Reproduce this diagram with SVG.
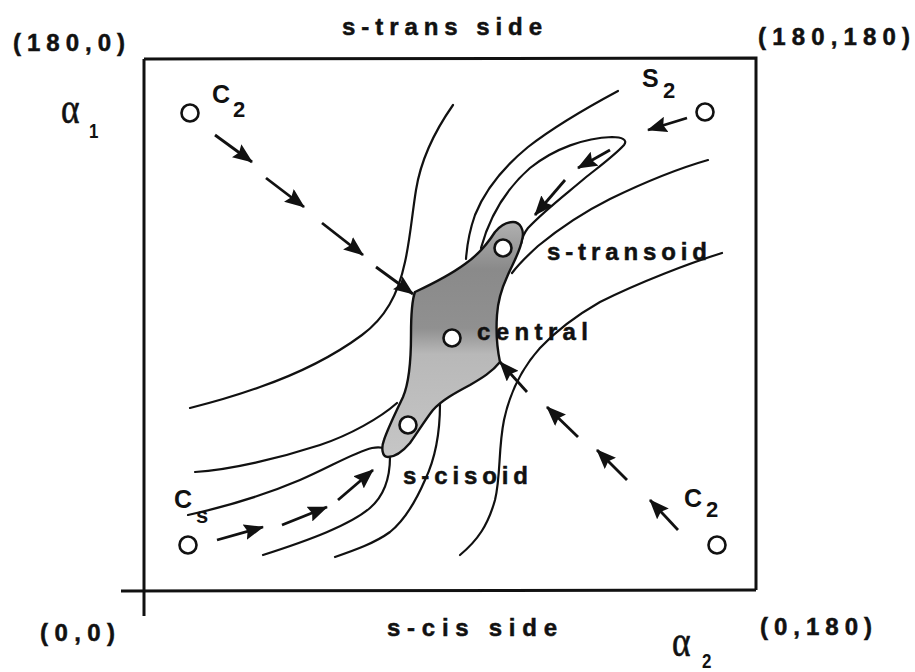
<svg xmlns="http://www.w3.org/2000/svg" width="915" height="672" viewBox="0 0 915 672">
<style>
.lbl{font-family:"Liberation Sans",Arial,sans-serif;font-weight:bold;font-size:24px;fill:#111;stroke:#111;stroke-width:0.5}
.pt{font-family:"Liberation Sans",Arial,sans-serif;font-weight:bold;font-size:25px;fill:#111}
.sub{font-size:22px}
.greek{font-family:"Liberation Serif","DejaVu Serif",serif;font-size:44px;fill:#111;stroke:#111;stroke-width:0.6}
.ax{font-family:"Liberation Sans",Arial,sans-serif;font-weight:bold;font-size:21px;stroke:none}
.frame{fill:none;stroke:#111;stroke-width:3}
.contour{fill:none;stroke:#111;stroke-width:2.2;stroke-linecap:round}
.pnt{fill:#fff;stroke:#111;stroke-width:2.6}
.arrow{fill:none;stroke:#111;stroke-width:2.8;marker-end:url(#ah)}
</style>
<defs>
<marker id="ah" viewBox="0 0 20 16" refX="19" refY="8" markerWidth="20" markerHeight="16" markerUnits="userSpaceOnUse" orient="auto">
<path d="M0,0 L20,8 L0,16 L3,8 Z" fill="#111"/>
</marker>
<linearGradient id="blobfill" gradientUnits="userSpaceOnUse" x1="0" y1="222" x2="0" y2="458">
<stop offset="0" stop-color="#b0b0b0"/>
<stop offset="0.2" stop-color="#8a8a8a"/>
<stop offset="0.45" stop-color="#909090"/>
<stop offset="0.56" stop-color="#b8b8b8"/>
<stop offset="1" stop-color="#c6c6c6"/>
</linearGradient>
</defs>
<rect width="915" height="672" fill="#fff"/>

<g id="frame">
<path class="frame" d="M144,59 L756,58 L756,590"/>
<path class="frame" d="M144,59 L144,616"/>
<path class="frame" d="M121,591 L756,590"/>
</g>

<g id="axis-labels">
<text class="lbl" x="13" y="51" textLength="112" lengthAdjust="spacing">(180,0)</text>
<text class="lbl" x="342" y="35" textLength="200" lengthAdjust="spacing">s-trans side</text>
<text class="lbl" x="758" y="45" textLength="152" lengthAdjust="spacing">(180,180)</text>
<text class="lbl" x="40" y="641" textLength="75" lengthAdjust="spacing">(0,0)</text>
<text class="lbl" x="387" y="636" textLength="170" lengthAdjust="spacing">s-cis side</text>
<text class="lbl" x="760" y="635" textLength="112" lengthAdjust="spacing">(0,180)</text>
<text class="greek" x="61" y="123" textLength="28" lengthAdjust="spacingAndGlyphs">α<tspan class="ax" x="89" y="138">1</tspan></text>
<text class="greek" x="672" y="656" textLength="28" lengthAdjust="spacingAndGlyphs">α<tspan class="ax" x="702" y="668">2</tspan></text>
</g>

<g id="contours">
<path class="contour" d="M453,105 C432,135 420,165 416,190 C412,215 410,240 405,262 C398,295 385,318 362,335 C335,355 300,373 260,387 C235,396 210,403 190,408"/>
<path class="contour" d="M618,91 C590,106 555,126 528,147 C500,170 483,195 475,215 C469,232 467,245 466,259"/>
<path class="contour" d="M481,248 C490,215 505,190 530,168 C555,148 585,138 612,137 C622,137 628,140 624,145 C615,155 600,166 585,178 C565,195 545,210 528,228 C524,233 522,238 521,244"/>
<path class="contour" d="M708,160 C680,168 645,182 610,199 C580,214 555,232 538,246 C527,256 518,265 512,273"/>
<path class="contour" d="M722,253 C690,263 640,282 600,302 C572,318 555,332 540,348 C522,368 510,392 504,420 C498,450 501,475 495,500 C488,525 478,540 460,555"/>
<path class="contour" d="M195,472 C230,470 280,458 320,445 C350,435 380,418 397,403"/>
<path class="contour" d="M188,515 C220,508 260,497 300,480 C330,467 355,452 372,448 C378,447 382,447 386,449"/>
<path class="contour" d="M390,457 C390,475 385,495 370,508 C350,525 310,540 263,555"/>
<path class="contour" d="M440,404 C440,425 437,455 425,480 C415,503 405,520 390,532 C375,543 355,550 335,557"/>
</g>

<g id="central-region">
<path fill="url(#blobfill)" stroke="#111" stroke-width="2.4" d="M513,222 C520,222 525,230 522,240 C520,252 512,265 507,277 C501,290 498,300 497,315 C496,330 497,348 500,362 C492,372 482,378 470,385 C455,393 442,400 433,410 C425,420 418,432 410,443 C404,450 396,457 388,457 C382,457 381,448 384,440 C388,428 396,412 403,397 C409,383 411,360 411,335 C411,315 412,300 415,292 C430,285 450,275 465,264 C478,255 488,243 495,232 C500,226 506,222 513,222 Z"/>
</g>

<g id="node-central">
<circle class="pnt" cx="452" cy="338" r="8.5"/>
<text class="lbl" x="477" y="340" textLength="111" lengthAdjust="spacing">central</text>
</g>
<g id="node-s-transoid">
<circle class="pnt" cx="503" cy="248" r="8.5"/>
<text class="lbl" x="547" y="260" textLength="160" lengthAdjust="spacing">s-transoid</text>
</g>
<g id="node-s-cisoid">
<circle class="pnt" cx="408" cy="425" r="8.5"/>
<text class="lbl" x="403" y="484" textLength="125" lengthAdjust="spacing">s-cisoid</text>
</g>
<g id="node-c2-top">
<circle class="pnt" cx="190" cy="113" r="8.5"/>
<text class="pt" x="212" y="103">C<tspan class="sub" x="233" y="117">2</tspan></text>
</g>
<g id="node-s2">
<circle class="pnt" cx="705" cy="112" r="8.5"/>
<text class="pt" x="642" y="87">S<tspan class="sub" x="663" y="98">2</tspan></text>
</g>
<g id="node-c2-bottom">
<circle class="pnt" cx="717" cy="545" r="8.5"/>
<text class="pt" x="684" y="507">C<tspan class="sub" x="706" y="517">2</tspan></text>
</g>
<g id="node-cs">
<circle class="pnt" cx="188" cy="545" r="8.5"/>
<text class="pt" x="174" y="508">C<tspan class="sub" x="196" y="523">s</tspan></text>
</g>

<g id="connectors">
<line class="arrow" x1="215" y1="135" x2="252" y2="162"/>
<line class="arrow" x1="266" y1="178" x2="304" y2="207"/>
<line class="arrow" x1="322" y1="223" x2="363" y2="255"/>
<line class="arrow" x1="376" y1="267" x2="413" y2="294"/>
<line class="arrow" x1="687" y1="118" x2="648" y2="130"/>
<line class="arrow" x1="610" y1="150" x2="578" y2="168"/>
<line class="arrow" x1="565" y1="180" x2="535" y2="215"/>
<line class="arrow" x1="678" y1="530" x2="650" y2="500"/>
<line class="arrow" x1="627" y1="480" x2="597" y2="450"/>
<line class="arrow" x1="578" y1="437" x2="547" y2="407"/>
<line class="arrow" x1="527" y1="392" x2="500" y2="362"/>
<line class="arrow" x1="217" y1="540" x2="263" y2="527"/>
<line class="arrow" x1="282" y1="525" x2="327" y2="507"/>
<line class="arrow" x1="338" y1="500" x2="373" y2="470"/>
</g>
</svg>
